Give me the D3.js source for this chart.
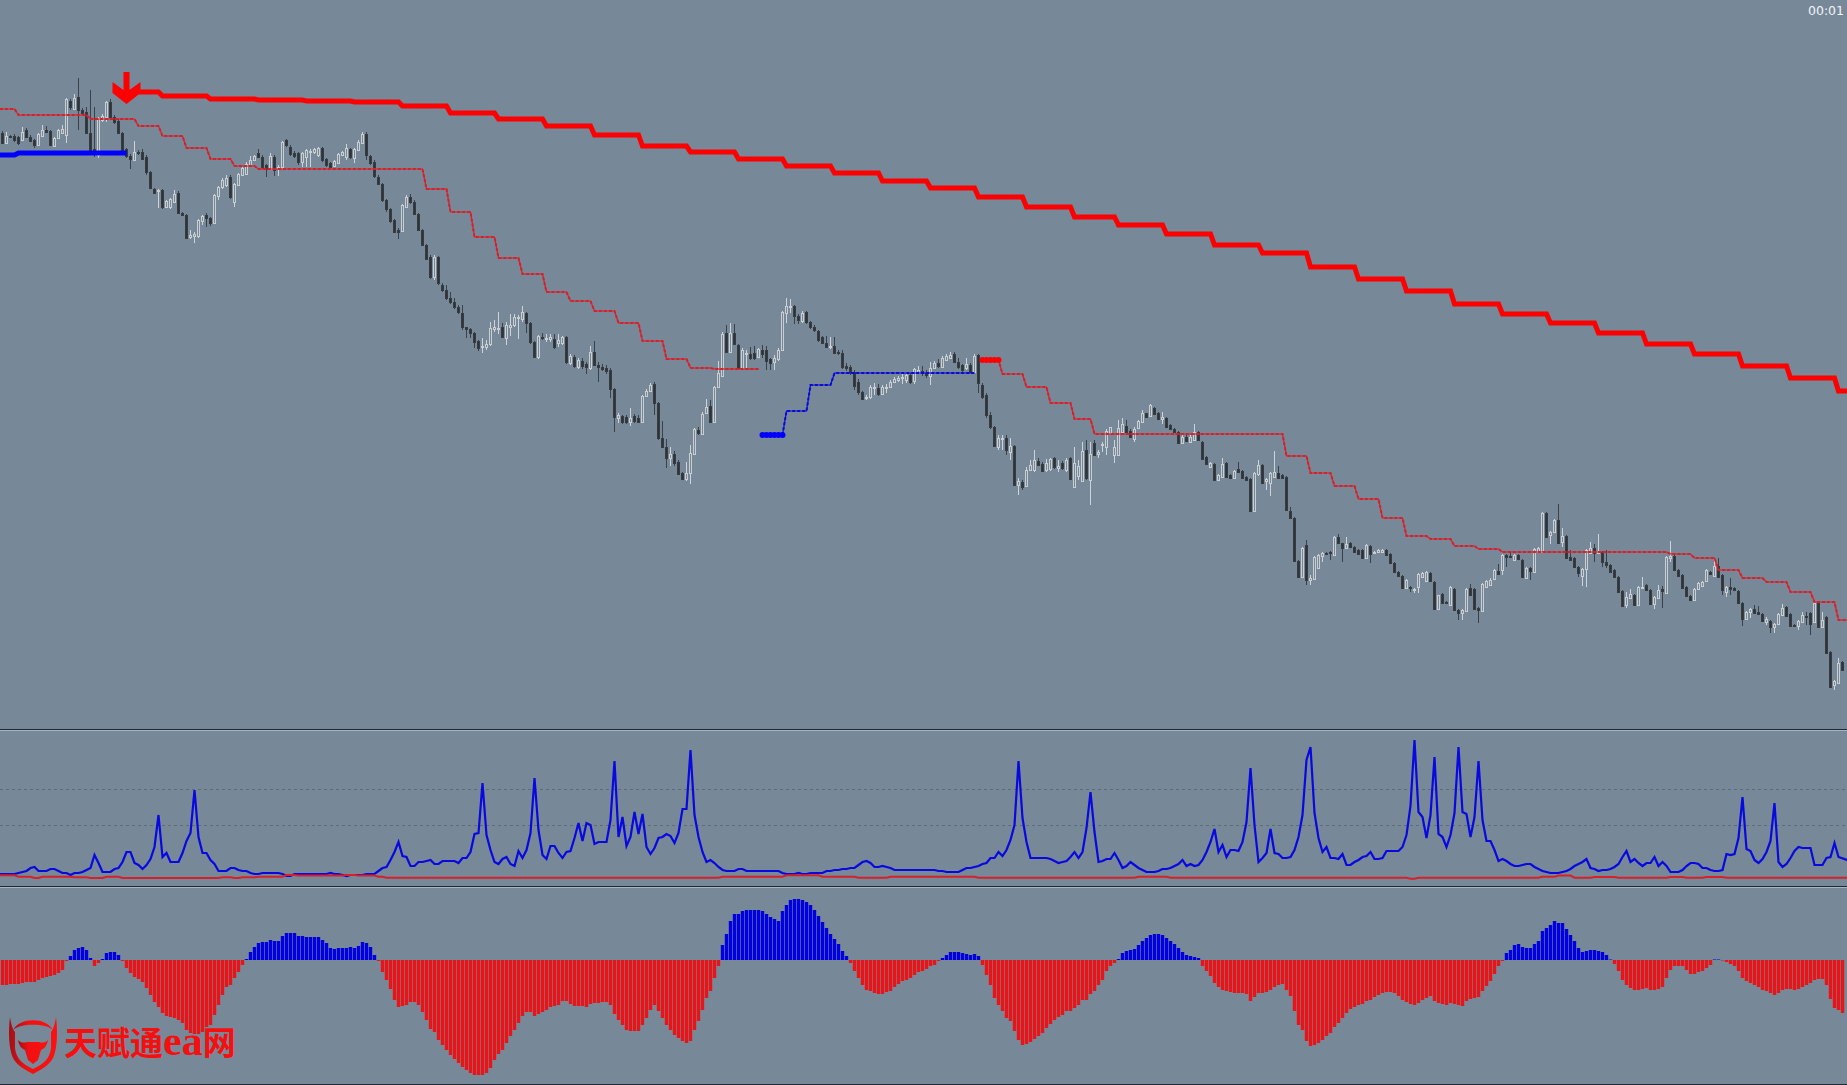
<!DOCTYPE html>
<html>
<head>
<meta charset="utf-8">
<title>chart</title>
<script src="https://cdn.jsdelivr.net/npm/d3@7"></script>
<style>
  html, body { margin: 0; padding: 0; background: #778899; overflow: hidden; }
  svg { display: block; }
</style>
</head>
<body>
<svg id="chart"></svg>
<script>
const opens = [
  597,587,594,594,593,590,600,593,590,585, 594,600,599,584,592,597,595,629,621,633,
  620,618,597,581,575,610,613,628,613,609, 597,581,574,570,578,578,573,558,541,539,
  540,523,523,528,537,517,515,493,494,494, 509,515,512,507,534,543,545,553,528,545,
  555,556,565,570,577,573,565,561,573,562, 563,590,583,577,577,568,573,578,578,575,
  582,571,567,564,567,575,573,581,572,580, 587,596,574,568,553,546,530,521,510,500,
  499,523,533,528,516,500,485,473,453,473, 445,440,432,428,423,417,403,401,397,389,
  383,383,386,401,401,403,392,403,405,412, 411,417,407,388,373,393,391,391,391,387,
  387,393,367,373,363,369,366,362,378,365, 363,362,360,341,312,314,313,308,314,312,
  308,334,339,346,327,292,283,272,276,268, 257,251,257,276,300,296,317,324,308,343,
  354,397,378,397,385,362,376,376,377,373, 380,380,371,368,371,380,417,423,424,414,
  409,418,408,403,399,393,387,383,384,378, 377,364,363,358,348,338,332,333,342,342,
  336,342,343,348,350,352,350,355,349,357, 359,357,354,362,367,363,370,372,376,368,
  365,362,365,358,375,345,335,315,303,283, 291,292,278,284,245,248,244,260,260,269,
  266,260,261,272,262,267,260,272,243,254, 249,280,250,287,276,285,283,297,275,275,
  298,304,299,291,302,308,317,314,322,317, 311,312,305,301,298,287,293,288,290,298,
  288,273,263,266,250,253,267,255,252,261, 259,253,251,219,256,265,249,247,253,257,
  255,253,219,212,169,153,185,150,151,162, 174,177,178,175,193,187,182,187,183,180,
  180,172,184,177,178,178,180,176,167,158, 154,142,143,140,143,153,149,157,148,121,
  136,128,125,141,120,117,119,142,141,122, 119,143,145,151,159,160,175,174,170,175,
  170,152,162,158,178,178,217,195,198,210, 188,194,173,172,163,154,161,177,182,177,
  178,168,165,160,153,139,125,132,135,125, 142,145,140,126,132,141,137,172,174,160,
  155,143,134,130,141,144,149,158,154,164, 155,138,143,142,139,127,111,118,121,118,
  116,108,109,103,106,115,123,116,105,104, 108,114,117,108,127,103,113,78,45,47,68
];
const closes = [
  587,594,593,590,587,598,593,589,585,596, 600,598,585,592,600,601,631,623,632,620,
  617,597,579,577,612,614,628,613,608,597, 580,574,571,578,577,571,558,542,537,540,
  523,529,531,536,517,515,492,495,496,510, 514,512,507,535,543,550,552,533,546,556,
  562,566,570,574,573,563,561,574,560,563, 588,585,576,574,568,577,580,579,581,582,
  570,565,563,569,576,578,582,573,581,588, 596,575,567,554,546,530,521,509,498,498,
  525,533,528,516,500,485,471,453,473,447, 440,432,428,423,418,403,401,397,388,382,
  384,386,402,403,402,393,405,405,413,413, 418,407,388,373,394,392,392,393,383,390,
  393,368,374,364,370,364,363,378,365,363, 361,359,341,313,315,308,308,312,309,308,
  334,339,345,327,292,283,272,276,267,256, 251,257,277,301,297,316,323,308,343,357,
  396,378,397,386,362,380,377,372,372,381, 376,369,367,372,380,418,424,424,414,410,
  417,408,403,400,390,387,383,384,377,377, 363,362,358,344,338,331,333,343,343,336,
  343,343,348,351,352,353,355,348,361,360, 357,355,362,367,364,372,374,375,368,363,
  360,366,358,374,347,333,315,303,284,292, 292,280,284,245,249,243,260,265,270,265,
  259,267,271,263,264,262,270,251,267,264, 279,252,276,275,278,286,299,303,283,302,
  306,298,293,301,309,317,313,325,316,311, 313,303,301,298,287,293,289,293,298,290,
  271,266,267,250,255,266,253,252,259,258, 252,250,219,257,265,247,251,257,258,252,
  252,220,212,169,153,182,150,152,173,175, 177,176,177,193,187,182,186,183,178,176,
  172,185,176,178,180,180,175,167,158,154, 142,150,142,141,156,157,158,149,121,135,
  127,127,143,120,117,120,141,135,121,120, 146,149,150,160,156,175,173,173,175,171,
  153,162,159,181,182,217,193,198,210,187, 194,172,170,163,157,161,180,182,177,179,
  168,165,158,153,138,124,133,136,125,143, 143,140,126,133,140,139,173,174,160,154,
  142,134,130,141,147,148,160,156,164,153, 140,143,141,140,127,111,118,121,117,116,
  109,111,103,106,116,122,114,104,104,109, 115,113,106,127,103,110,77,43,49,67,60
];
const highs = [
  599,598,595,596,594,603,602,595,591,597, 605,604,600,593,601,605,632,631,636,652,
  622,623,640,623,613,616,629,631,615,611, 598,582,576,589,580,581,575,559,542,541,
  541,530,532,540,539,518,516,500,498,511, 515,517,513,536,544,552,555,555,547,557,
  563,568,574,575,581,575,566,577,575,565, 589,591,585,579,578,578,581,581,582,583,
  583,572,568,570,577,579,586,582,582,590, 598,598,575,570,555,547,531,522,511,502,
  526,535,536,530,517,501,486,475,475,474, 447,445,438,432,425,425,403,402,398,390,
  392,390,408,410,418,407,408,416,416,415, 424,418,408,389,395,397,396,396,396,396,
  394,394,376,375,372,372,368,384,389,368, 366,365,362,342,317,315,315,322,316,315,
  335,341,347,348,328,309,291,283,279,270, 258,268,285,302,303,318,331,330,344,369,
  398,405,407,406,386,382,380,383,384,382, 385,384,372,375,382,419,432,431,425,416,
  419,419,409,405,400,394,394,393,393,380, 380,367,365,360,351,339,335,345,347,346,
  345,346,350,353,354,356,358,357,362,364, 364,360,368,369,371,374,376,378,378,372,
  366,372,367,376,376,347,337,318,304,295, 295,295,292,285,252,250,263,270,280,272,
  268,271,272,273,270,269,272,273,283,270, 288,290,288,290,280,288,301,303,290,310,
  312,310,301,303,310,320,317,326,323,318, 318,313,306,302,299,295,295,295,306,299,
  289,274,268,267,256,272,268,256,260,268, 260,254,252,258,270,266,252,258,279,264,
  256,254,223,213,170,183,190,155,174,176, 178,178,179,194,196,184,193,188,184,181,
  181,186,185,179,181,181,181,177,168,159, 155,151,144,142,157,158,159,158,149,122,
  137,129,144,142,121,121,142,146,142,123, 147,150,152,161,166,176,176,178,176,176,
  171,163,163,182,183,218,218,199,211,226, 202,195,180,173,164,162,181,188,186,196,
  179,180,166,161,154,140,138,141,136,144, 153,146,141,134,145,144,174,189,175,161,
  156,144,135,142,148,149,161,159,171,172, 156,144,152,143,140,128,119,122,125,124,
  117,113,110,107,117,126,124,117,106,110, 118,118,118,128,128,118,114,79,50,72,69
];
const lows = [
  586,586,592,588,585,590,592,588,582,585, 594,597,584,584,592,597,587,620,620,600,
  614,596,575,573,572,608,608,611,606,596, 578,572,561,569,575,570,555,541,536,522,
  521,522,521,527,516,514,491,491,487,492, 505,503,504,506,530,541,543,531,523,544,
  554,555,564,569,572,561,553,560,554,554, 561,583,574,572,565,563,563,563,576,573,
  568,563,562,563,566,574,570,571,567,579, 586,570,565,552,545,528,518,507,497,491,
  498,522,526,515,499,484,470,451,450,445, 438,430,426,421,416,400,392,392,382,379,
  377,380,384,398,396,392,385,394,403,391, 408,397,386,372,371,390,388,388,381,383,
  385,366,365,362,361,361,356,360,364,348, 359,356,332,298,307,306,306,304,307,307,
  307,333,338,315,290,282,262,264,264,255, 250,249,246,275,295,295,316,307,307,342,
  353,377,377,385,361,360,362,370,370,372, 372,360,360,360,369,379,407,417,406,406,
  407,406,401,398,388,386,382,381,376,375, 361,359,355,340,335,330,330,331,335,334,
  335,337,342,347,348,346,347,346,346,356, 354,352,345,361,362,362,369,371,367,361,
  358,360,357,357,337,331,312,301,283,280, 280,275,270,244,235,240,243,259,258,264,
  258,258,259,261,258,260,258,250,243,250, 248,250,225,274,272,278,275,296,267,275,
  297,297,292,288,301,307,312,313,315,310, 306,302,300,297,286,286,288,287,289,289,
  270,265,262,249,249,252,252,251,251,257, 251,249,218,218,254,246,240,234,252,251,
  251,219,211,168,152,152,145,145,150,161, 168,175,170,174,186,168,181,182,177,175,
  171,171,167,176,177,177,174,166,157,153, 141,141,138,137,137,152,148,148,120,120,
  126,126,124,119,110,110,118,134,120,107, 118,142,144,150,155,155,163,172,169,170,
  152,151,150,157,177,177,192,186,197,186, 183,171,169,162,153,144,143,176,168,176,
  163,162,157,152,137,123,122,131,124,124, 141,139,125,121,131,122,136,168,159,153,
  141,133,129,129,140,143,148,155,153,152, 135,133,135,139,126,104,110,112,116,115,
  108,105,97,97,105,114,113,103,103,100, 107,105,95,107,102,102,76,42,40,46,59
];

// slow trailing stop, thick red: [first bar, level]
const slowStopBars =   [31,40,52,64,76,88,100,112,124,136,148,160,172,184,196,208,220,232,244,256,268,279,291,303,315,327,339,351,363,375,387,399,411,423,435,447,459];
const slowStopLevels = [638,634,631,630,629,628,624,617,611,604,595,584,578,571,564,557,549,542,533,523,513,505,496,485,477,463,451,439,426,416,407,397,386,376,364,352,339];
const slowStopEnd = 460;

// buy stop at the far left, thick blue
const leftBuyBars = [0,4];
const leftBuyLevels = [575,577];
const leftBuyEnd = 31;

// fast trailing stop, three pieces
const fastDownBars =   [0,4,22,34,40,46,52,58,64,106,112,118,124,130,136,142,148,154,160,166,172,178];
const fastDownLevels = [621,615,611,604,594,582,571,564,561,541,518,493,472,456,438,429,419,407,389,371,362,361];
const fastDownEnd = 189;

const fastUpBars =   [190,196,202,208];
const fastUpLevels = [295,319,345,357];
const fastUpEnd = 243;
const fastUpDots = [190,191,192,193,194,195];

const fastDown2Bars =   [245,250,256,262,268,273,321,327,333,339,345,351,357,363,369,375,417,423,429,435,441,447,453,459];
const fastDown2Levels = [370,356,343,327,311,296,274,257,244,231,212,194,191,184,181,178,176,172,160,152,148,138,128,110];
const fastDown2End = 460;
const fastDown2Dots = [245,246,247,248,249];

const sellArrowBar = 31;
const sellArrowLevel = 626;

// middle panel
const rangeLine = [
  6,6,6,6,7,8,9,12,13,9, 9,9,11,11,9,7,7,5,7,7, 8,10,12,25,17,8,8,8,11,12, 18,28,28,17,15,11,15,21,33,65,
  23,27,18,18,18,27,39,47,90,43, 27,27,20,16,9,9,9,12,12,10, 9,9,7,6,6,7,7,7,7,7, 6,4,4,6,6,6,6,6,6,6,
  6,6,7,6,6,5,4,5,5,5, 5,6,6,6,9,12,13,20,28,38, 24,23,14,14,18,18,19,20,16,16, 19,19,19,19,17,22,22,28,46,47,
  97,45,30,18,16,21,23,16,14,29, 22,30,47,102,50,25,21,34,34,27, 22,28,29,42,57,39,57,55,36,38, 38,38,60,119,43,63,34,43,68,46,
  66,33,26,32,42,43,46,44,37,47, 71,71,130,65,43,28,18,20,17,13, 10,9,9,9,11,11,9,9,9,9, 9,9,9,9,9,7,6,6,6,7,
  6,6,7,7,7,7,9,9,10,10, 11,11,12,12,15,18,19,17,13,13, 14,13,12,10,10,10,10,10,10,10, 10,10,10,10,9,9,8,8,8,8,
  10,12,12,13,14,16,17,22,22,28, 24,30,40,55,119,62,38,22,22,22, 22,22,21,19,17,18,19,23,28,22, 28,52,88,48,18,19,21,21,27,20,
  12,14,18,15,12,10,8,8,8,9, 11,11,12,14,16,20,14,16,14,15, 20,28,38,51,28,35,23,30,30,29, 38,58,112,55,18,22,27,51,27,26,
  22,22,23,30,43,65,120,133,67,42, 28,33,22,22,21,26,15,15,18,20, 23,24,28,21,21,22,29,29,29,29, 33,45,74,140,68,63,42,65,123,46,
  43,33,45,67,133,68,66,43,63,119, 60,39,39,30,19,21,19,16,14,14, 15,16,16,13,11,9,8,7,7,7, 8,9,11,14,16,18,21,12,11,9,
  10,10,11,13,16,23,29,18,21,17, 14,17,17,23,14,18,14,8,8,8, 10,14,17,17,16,12,12,10,9,9, 10,26,25,26,42,83,31,29,20,17,
  21,28,39,77,18,13,16,22,29,33, 32,32,32,15,15,15,22,23,37,23,20
];
const signalBars =   [0,4,8,10,18,22,26,30,55,58,60,64,71,74,86,89,94,96,180,196,205,214,222,244,284,292,352,354,385,389,393,398,404,417,421,426,431];
const signalLevels = [4.7,3.3,2,3.3,2.7,2,3.3,2,2.7,2,2.7,3.3,5,4.5,5,4.5,3.3,2.3,3.3,4.7,3.3,2.3,3.3,2.3,3.3,2.3,1.3,2.2,3.3,4.5,2.3,3,2.3,3,2.3,3,2.3];
const signalEnd = 460;
const rangeLevels = [55,91];

// bottom panel
const histogram = [
  -25,-25,-24,-24,-24,-23,-22,-22,-22,-20, -18,-17,-16,-15,-13,-10,-1,4,10,12, 13,10,2,-6,-3,1,7,8,8,5, -1,-8,-13,-17,-19,-22,-28,-35,-42,-47,
  -53,-56,-57,-58,-60,-63,-70,-73,-74,-74, -72,-67,-65,-55,-45,-35,-27,-25,-18,-12, -5,1,8,13,17,18,18,20,19,19, 24,27,27,27,24,24,23,23,23,23,
  20,17,12,11,12,12,12,13,12,14, 18,17,13,5,-1,-12,-20,-29,-40,-47, -46,-45,-42,-42,-45,-52,-60,-69,-72,-80, -85,-90,-95,-99,-103,-107,-110,-113,-115,-115,
  -115,-113,-108,-100,-94,-90,-83,-76,-70,-63, -56,-52,-52,-56,-54,-52,-50,-47,-46,-45, -41,-41,-44,-46,-46,-46,-47,-44,-43,-43, -42,-42,-45,-54,-60,-65,-70,-71,-71,-71,
  -65,-58,-50,-45,-51,-58,-65,-70,-75,-78, -81,-83,-81,-70,-61,-50,-38,-31,-18,-6, 15,26,39,46,46,49,50,50,50,50, 49,46,43,41,39,49,55,60,61,61,
  60,58,55,50,44,38,32,26,21,16, 9,4,-3,-11,-18,-25,-30,-31,-33,-34, -34,-32,-31,-27,-24,-21,-20,-18,-15,-12, -11,-9,-6,-5,-1,2,5,8,8,8,
  7,6,5,6,4,-5,-15,-25,-38,-45, -51,-58,-61,-71,-80,-85,-84,-82,-79,-76, -73,-68,-64,-60,-57,-55,-51,-51,-48,-45, -40,-40,-34,-31,-25,-20,-11,-6,-3,1,
  7,9,10,11,15,19,22,25,26,26, 25,22,19,16,12,8,5,4,3,2, -6,-11,-16,-23,-27,-30,-31,-32,-33,-33, -33,-34,-41,-37,-33,-33,-32,-30,-27,-25,
  -24,-30,-36,-51,-65,-70,-81,-86,-85,-83, -80,-76,-73,-67,-63,-58,-53,-49,-47,-45, -44,-41,-40,-37,-35,-33,-32,-32,-33,-36, -40,-42,-44,-45,-43,-40,-38,-36,-41,-43,
  -44,-45,-43,-44,-45,-46,-41,-39,-38,-37, -31,-26,-21,-14,-6,-1,7,10,15,16, 13,12,12,16,19,29,32,35,39,37, 37,31,25,19,12,8,9,10,10,9,
  8,5,0.5,-4,-11,-20,-25,-28,-30,-30, -29,-28,-30,-30,-29,-27,-18,-10,-6,-6, -6,-10,-14,-14,-12,-11,-8,-5,0.5,0.5, -0.5,-2,-4,-6,-11,-18,-21,-23,-25,-27,
  -30,-31,-33,-35,-33,-30,-29,-29,-30,-29, -27,-25,-23,-20,-19,-19,-25,-39,-48,-50,-53
];

const width = 1847;
const height = 1085;
const bg = '#778899';
const lastBar = opens.length - 1;

const svg = d3.select('#chart').attr('width', width).attr('height', height);
svg.append('rect').attr('width', width).attr('height', height).attr('fill', bg);

const x = d3
  .scaleBand()
  .domain(d3.range(opens.length))
  .range([0.5, 1844.5])
  .paddingInner(0.25)
  .paddingOuter(0.125);
const xc = i => x(i) + x.bandwidth() / 2;
// lines run off both edges of the window
const xLine = i => (i === 0 ? 0 : i === lastBar ? width : xc(i));

const yPrice = d3.scaleLinear().domain([0, 730]).range([730, 0]);
const yRange = d3.scaleLinear().domain([0, 150]).range([880, 730]);
const yHist = d3.scaleLinear().domain([-125, 100]).range([1085, 860]);

// expand [first bar, level] stops into one value per bar
const expandStops = (bars, levels, end) =>
  d3.range(bars[0], end + 1).map(i => ({
    i,
    v: levels[d3.bisectRight(bars, i) - 1]
  }));

const stepLine = d3
  .line()
  .x(d => xLine(d.i))
  .y(d => yPrice(d.v));

// candles
const candles = svg
  .append('g')
  .selectAll('g')
  .data(opens.map((o, i) => ({ i, o, c: closes[i], h: highs[i], l: lows[i] })))
  .enter()
  .append('g');

const isBull = d => d.c >= d.o;

candles
  .append('line')
  .attr('x1', d => Math.floor(xc(d.i)) + 0.5)
  .attr('x2', d => Math.floor(xc(d.i)) + 0.5)
  .attr('y1', d => yPrice(d.h))
  .attr('y2', d => yPrice(d.l))
  .attr('stroke', d => (isBull(d) ? '#cfd3d7' : '#3a4148'))
  .attr('stroke-width', 1);

candles
  .append('rect')
  .attr('x', d => x(d.i) + 0.5)
  .attr('width', 2)
  .attr('y', d => Math.min(yPrice(d.o), yPrice(d.c)))
  .attr('height', d => Math.max(1, Math.abs(yPrice(d.o) - yPrice(d.c))))
  .attr('fill', d => (isBull(d) ? bg : '#2e3338'))
  .attr('stroke', d => (isBull(d) ? '#c9ced3' : '#363c42'))
  .attr('stroke-width', 1)
  .attr('shape-rendering', 'crispEdges');

// thin stops: solid line with a dotted one on top
const drawThin = (series, color) => {
  svg
    .append('path')
    .attr('d', stepLine(series))
    .attr('fill', 'none')
    .attr('stroke', color)
    .attr('stroke-width', 1.2);
  svg
    .append('path')
    .attr('d', stepLine(series))
    .attr('fill', 'none')
    .attr('stroke', color)
    .attr('stroke-width', 2)
    .attr('stroke-dasharray', '3 2');
};

const fastDown = expandStops(fastDownBars, fastDownLevels, fastDownEnd);
const fastUp = expandStops(fastUpBars, fastUpLevels, fastUpEnd);
const fastDown2 = expandStops(fastDown2Bars, fastDown2Levels, fastDown2End);

drawThin(fastDown, '#d8202a');
drawThin(fastUp, '#0a0ad8');
drawThin(fastDown2, '#d8202a');

const drawDots = (bars, series, color) => {
  svg
    .append('g')
    .selectAll('circle')
    .data(bars)
    .enter()
    .append('circle')
    .attr('cx', d => xc(d))
    .attr('cy', d => yPrice(series.find(s => s.i === d).v))
    .attr('r', 3)
    .attr('fill', color);
};
drawDots(fastUpDots, fastUp, '#0000ff');
drawDots(fastDown2Dots, fastDown2, '#ff0000');

// thick stops
svg
  .append('path')
  .attr('d', stepLine(expandStops(slowStopBars, slowStopLevels, slowStopEnd)))
  .attr('fill', 'none')
  .attr('stroke', '#ff0000')
  .attr('stroke-width', 5);
svg
  .append('path')
  .attr('d', stepLine(expandStops(leftBuyBars, leftBuyLevels, leftBuyEnd)))
  .attr('fill', 'none')
  .attr('stroke', '#0000ff')
  .attr('stroke-width', 5);

// sell arrow, tip on the signal level
svg
  .append('path')
  .attr('transform', `translate(${xc(sellArrowBar)},${yPrice(sellArrowLevel)})`)
  .attr('d', 'M-3,-32 L3,-32 L3,-14 L14,-22 L14,-11 L0,0 L-14,-11 L-14,-22 L-3,-14 Z')
  .attr('fill', '#ff0000');

// separators
const separators = [
  { y: 729.5, c: '#1c2a36' },
  { y: 730.5, c: '#a9b4bf' },
  { y: 886.5, c: '#1c2a36' },
  { y: 887.5, c: '#a9b4bf' },
  { y: 1084.5, c: '#1c2a36' }
];
svg
  .append('g')
  .selectAll('line')
  .data(separators)
  .enter()
  .append('line')
  .attr('x1', 0)
  .attr('x2', width)
  .attr('y1', d => d.y)
  .attr('y2', d => d.y)
  .attr('stroke', d => d.c);

// middle panel
svg
  .append('g')
  .selectAll('line')
  .data(rangeLevels)
  .enter()
  .append('line')
  .attr('x1', 0)
  .attr('x2', width)
  .attr('y1', d => Math.round(yRange(d)) + 0.5)
  .attr('y2', d => Math.round(yRange(d)) + 0.5)
  .attr('stroke', '#5f6b77')
  .attr('stroke-dasharray', '3 3');

const rangePath = d3
  .line()
  .x(d => xLine(d.i))
  .y(d => yRange(d.v));

svg
  .append('path')
  .attr('d', rangePath(rangeLine.map((v, i) => ({ i, v }))))
  .attr('fill', 'none')
  .attr('stroke', '#0808e0')
  .attr('stroke-width', 2.2);
svg
  .append('path')
  .attr('d', rangePath(expandStops(signalBars, signalLevels, signalEnd)))
  .attr('fill', 'none')
  .attr('stroke', '#d8202a')
  .attr('stroke-width', 2);

// bottom panel
svg
  .append('g')
  .selectAll('rect')
  .data(histogram)
  .enter()
  .append('rect')
  .attr('x', (d, i) => x(i) - 0.2)
  .attr('width', x.bandwidth() + 0.4)
  .attr('y', d => Math.min(yHist(d), yHist(0)))
  .attr('height', d => Math.abs(yHist(d) - yHist(0)))
  .attr('fill', d => (d > 0 ? '#0000e0' : '#e81418'));

// logo
const defs = svg.append('defs');
const logoFill = defs
  .append('linearGradient')
  .attr('id', 'logoFill')
  .attr('x1', 0)
  .attr('x2', 1);
logoFill.append('stop').attr('offset', '0%').attr('stop-color', '#a01018');
logoFill.append('stop').attr('offset', '35%').attr('stop-color', '#f01010');
logoFill.append('stop').attr('offset', '100%').attr('stop-color', '#ff1010');

const logo = svg.append('g').attr('fill', 'url(#logoFill)');
logo
  .append('path')
  .attr('fill-rule', 'evenodd')
  .attr(
    'd',
    'M10,1017 C8,1032 9,1050 13,1058 C17,1066 26,1070 33,1074 C40,1070 49,1066 53,1058 C57,1050 58,1032 56,1017 C55,1024 53,1030 51,1032 L51,1048 C50,1058 44,1064 33,1069 C22,1064 16,1058 15,1048 L15,1032 C13,1030 11,1024 10,1017 Z'
  );
logo
  .append('path')
  .attr('d', 'M13,1030 C20,1017 46,1017 53,1030 C46,1023 20,1023 13,1030 Z');
logo
  .append('path')
  .attr(
    'd',
    'M18,1040 C21,1043 24,1043 27,1042 L39,1042 C42,1043 45,1043 48,1040 C47,1046 44,1049 41,1050 L38,1060 L33,1064 L28,1060 L25,1050 C22,1049 19,1046 18,1040 Z'
  );

const logoText = svg
  .append('text')
  .attr('x', 64)
  .attr('y', 1055)
  .attr('fill', '#f50f0f')
  .attr('font-size', 33)
  .attr('font-weight', 700);
logoText
  .append('tspan')
  .attr('font-family', '"Noto Sans CJK SC"')
  .text('天赋通');
logoText
  .append('tspan')
  .attr('font-family', '"Liberation Serif"')
  .attr('font-size', 42)
  .text('ea');
logoText
  .append('tspan')
  .attr('font-family', '"Noto Sans CJK SC"')
  .text('网');

svg
  .append('text')
  .attr('x', 1808)
  .attr('y', 15)
  .attr('fill', '#f2f4f6')
  .attr('font-family', '"DejaVu Sans"')
  .attr('font-size', 12.5)
  .text('00:01');
</script>
</body>
</html>
